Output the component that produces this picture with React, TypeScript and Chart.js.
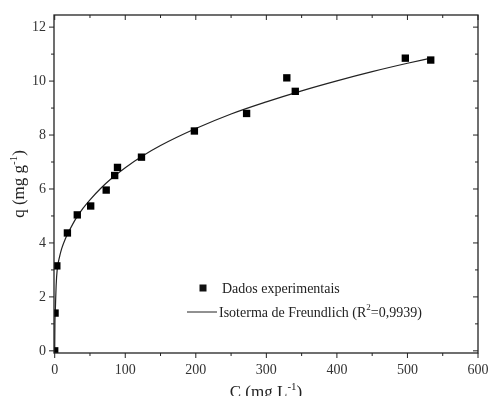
import React, { useEffect, useRef } from "react";
import { Chart, registerables } from "chart.js";

Chart.register(...registerables);

// Experimental data (C in mg/L, q in mg/g)
const expC = [0, 0.5, 3, 18, 32, 51, 73, 85, 89, 123, 198, 272, 329, 341, 497, 533];
const expQ = [0, 1.4, 3.15, 4.37, 5.04, 5.37, 5.96, 6.5, 6.8, 7.18, 8.15, 8.8, 10.12, 9.62, 10.85, 10.78];

// Freundlich isotherm curve
const fitC = [0, 0.3, 1, 2, 3.5, 7, 10, 15, 20, 30, 40, 50, 65, 80, 100, 125, 150, 200, 250, 300, 350, 400, 450, 500, 533];
const fitQ = [0, 1.0, 1.6, 2.4, 3.0, 3.5, 3.8, 4.15, 4.42, 4.9, 5.28, 5.6, 6.02, 6.38, 6.79, 7.23, 7.61, 8.24, 8.78, 9.23, 9.64, 10.01, 10.35, 10.66, 10.85];

const xTicks = [0, 100, 200, 300, 400, 500, 600];
const xMinor = [50, 150, 250, 350, 450, 550];
const yTicks = [0, 2, 4, 6, 8, 10, 12];
const yMinor = [1, 3, 5, 7, 9, 11];

const legendPoints = "Dados experimentais";
const legendLinePre = "Isoterma de Freundlich (R";
const legendLineSup = "2";
const legendLinePost = "=0,9939)";

const FONT = "'Liberation Serif', 'Times New Roman', serif";
const AXIS = "#222";

const decorPlugin = {
  id: "decor",
  afterDraw(chart: any) {
    const { ctx, chartArea } = chart;
    const xs = chart.scales.x;
    const ys = chart.scales.y;
    const { left, right, top, bottom } = chartArea;
    ctx.save();
    ctx.strokeStyle = AXIS;
    ctx.lineWidth = 1.3;
    ctx.strokeRect(left, top, right - left, bottom - top);
    ctx.lineWidth = 1;
    ctx.beginPath();
    const tick = (x1: number, y1: number, x2: number, y2: number) => {
      ctx.moveTo(x1, y1);
      ctx.lineTo(x2, y2);
    };
    xTicks.forEach((v) => {
      const p = xs.getPixelForValue(v);
      tick(p, bottom, p, bottom + 5);
      tick(p, top, p, top + 5);
    });
    xMinor.forEach((v) => {
      const p = xs.getPixelForValue(v);
      tick(p, bottom, p, bottom + 3);
      tick(p, top, p, top + 3);
    });
    yTicks.forEach((v) => {
      const p = ys.getPixelForValue(v);
      tick(left, p, left - 5, p);
      tick(right, p, right - 5, p);
    });
    yMinor.forEach((v) => {
      const p = ys.getPixelForValue(v);
      tick(left, p, left - 3, p);
      tick(right, p, right - 3, p);
    });
    ctx.stroke();

    // Legend
    ctx.fillStyle = "#111";
    const lx = left + 149;
    const ly1 = top + 273;
    const ly2 = top + 297;
    ctx.fillRect(lx - 3.5, ly1 - 3.5, 7, 7);
    ctx.beginPath();
    ctx.moveTo(lx - 16, ly2);
    ctx.lineTo(lx + 14, ly2);
    ctx.stroke();
    ctx.font = `14px ${FONT}`;
    ctx.textBaseline = "middle";
    ctx.textAlign = "left";
    ctx.fillStyle = "#222";
    ctx.fillText(legendPoints, lx + 19, ly1 + 1);
    let tx = lx + 16;
    ctx.fillText(legendLinePre, tx, ly2 + 1);
    tx += ctx.measureText(legendLinePre).width;
    ctx.font = `9px ${FONT}`;
    ctx.fillText(legendLineSup, tx, ly2 - 4);
    tx += ctx.measureText(legendLineSup).width;
    ctx.font = `14px ${FONT}`;
    ctx.fillText(legendLinePost, tx, ly2 + 1);

    // Axis titles with superscripts
    const measure = (main: string, sup: string, tail: string) => {
      ctx.font = `17px ${FONT}`;
      const w1 = ctx.measureText(main).width;
      const w3 = ctx.measureText(tail).width;
      ctx.font = `11px ${FONT}`;
      const w2 = ctx.measureText(sup).width;
      return { w1, w2, w3, total: w1 + w2 + w3 };
    };
    const drawTitle = (main: string, sup: string, tail: string, x0: number, y: number) => {
      const m = measure(main, sup, tail);
      let x = x0 - m.total / 2;
      ctx.font = `17px ${FONT}`;
      ctx.fillText(main, x, y);
      x += m.w1;
      ctx.font = `11px ${FONT}`;
      ctx.fillText(sup, x, y - 7);
      x += m.w2;
      ctx.font = `17px ${FONT}`;
      ctx.fillText(tail, x, y);
    };
    ctx.textBaseline = "alphabetic";
    drawTitle("C (mg L", "-1", ")", (left + right) / 2, 397);
    ctx.translate(24, (top + bottom) / 2);
    ctx.rotate(-Math.PI / 2);
    drawTitle("q (mg g", "-1", ")", 0, 0);
    ctx.restore();
  },
};

export default function App() {
  const ref = useRef<HTMLCanvasElement | null>(null);
  useEffect(() => {
    if (!ref.current) return;
    const chart = new Chart(ref.current, {
      type: "scatter",
      data: {
        datasets: [
          {
            label: legendPoints,
            data: expC.map((c, i) => ({ x: c, y: expQ[i] })),
            pointStyle: "rect",
            pointRadius: 5.2,
            backgroundColor: "#000",
            borderWidth: 0,
            order: 0,
          },
          {
            label: "Isoterma de Freundlich",
            data: fitC.map((c, i) => ({ x: c, y: fitQ[i] })),
            showLine: true,
            pointRadius: 0,
            borderColor: "#222",
            borderWidth: 1.2,
            cubicInterpolationMode: "monotone",
            order: 1,
          } as any,
        ],
      },
      options: {
        animation: false,
        responsive: true,
        maintainAspectRatio: false,
        layout: { padding: { top: 15, right: 10, left: 0, bottom: 0 } },
        plugins: { legend: { display: false }, tooltip: { enabled: false } },
        scales: {
          x: {
            type: "linear",
            min: -1,
            max: 600,
            grid: { display: false, drawTicks: false },
            border: { display: false },
            ticks: { color: "#333", font: { family: FONT, size: 14 }, padding: 9, maxRotation: 0 },
            afterBuildTicks: (s: any) => {
              s.ticks = xTicks.map((v) => ({ value: v }));
            },
            afterFit: (s: any) => {
              s.height = 43;
              s.paddingLeft = 0;
              s.paddingRight = 0;
            },
          },
          y: {
            type: "linear",
            min: -0.08,
            max: 12.45,
            grid: { display: false, drawTicks: false },
            border: { display: false },
            ticks: { color: "#333", font: { family: FONT, size: 14 }, padding: 8 },
            afterBuildTicks: (s: any) => {
              s.ticks = yTicks.map((v) => ({ value: v }));
            },
            afterFit: (s: any) => {
              s.width = 54;
              s.paddingTop = 0;
              s.paddingBottom = 0;
            },
          },
        },
      },
      plugins: [decorPlugin],
    });
    return () => chart.destroy();
  }, []);
  return (
    <div style={{ position: "fixed", left: 0, top: 0, width: 488, height: 396, background: "#fff" }}>
      <canvas ref={ref} />
    </div>
  );
}
